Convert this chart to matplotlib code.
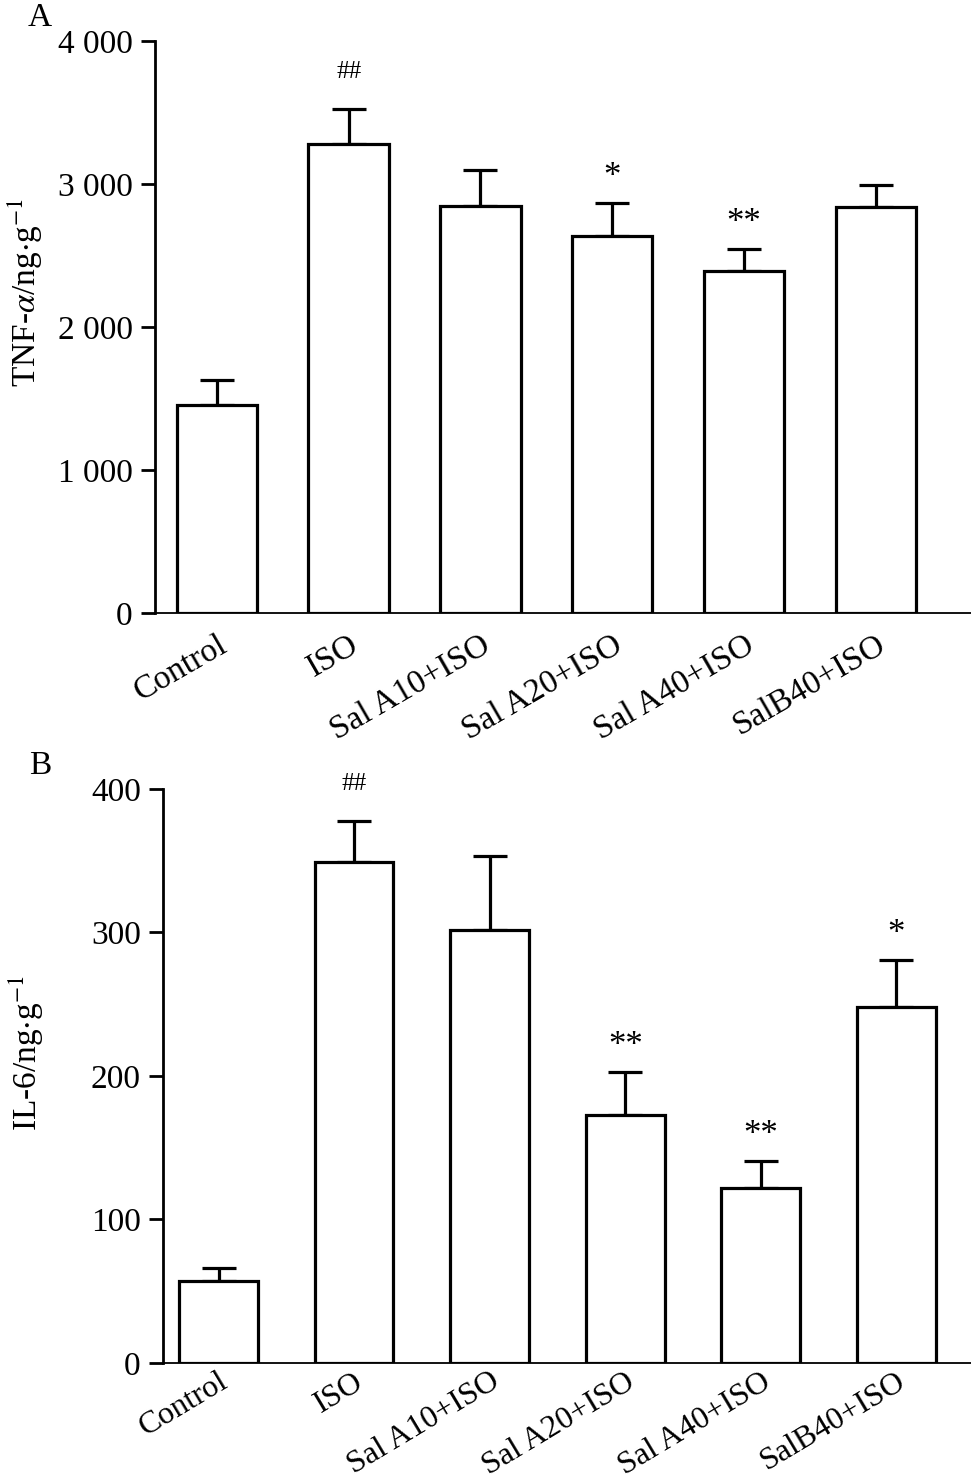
import matplotlib
matplotlib.use('Agg')
import matplotlib.pyplot as plt
import numpy as np

plt.rcParams['font.family'] = ['Liberation Serif', 'DejaVu Serif']
plt.rcParams['mathtext.fontset'] = 'stix'

groups = ['Control', 'ISO', 'Sal A10+ISO', 'Sal A20+ISO', 'Sal A40+ISO', 'SalB40+ISO']

# 图A：TNF-α
tnf_mean = [1455, 3280, 2846, 2636, 2392, 2839]
tnf_err = [174, 244, 252, 231, 153, 154]
tnf_marks = ['', '##', '', '*', '**', '']

# 图B：IL-6
il6_mean = [57, 349, 302, 173, 122, 248]
il6_err = [9, 29, 51, 30, 19, 33]
il6_marks = ['', '##', '', '**', '**', '*']

fig = plt.figure(figsize=(9.71, 14.78), dpi=100)


def panel(rect, mean, err, marks, yticks, yticklabels, ylabel, width, xlim,
          letter, label_xy, xpad, rot, xfs):
    ax = fig.add_axes(rect)
    x = np.arange(len(groups))
    ax.bar(x, mean, width=width, color='white', edgecolor='black', linewidth=2.3, zorder=2)
    # 只画上半误差棒
    ax.errorbar(x, mean, yerr=[np.zeros(len(err)), err], fmt='none', ecolor='black',
                elinewidth=2.3, capsize=12, capthick=2.3, zorder=1)
    top = yticks[-1]
    for xi, m, e, s in zip(x, mean, err, marks):
        if not s:
            continue
        if s == '##':
            ax.text(xi, m + e + top * 0.045, s, ha='center', va='bottom', fontsize=18)
        else:
            ax.text(xi, m + e + top * 0.015, s, ha='center', va='bottom', fontsize=25)
    ax.set_ylim(0, top)
    ax.set_xlim(*xlim)
    ax.set_yticks(yticks)
    ax.set_yticklabels(yticklabels, fontsize=24)
    ax.set_xticks(x)
    ax.set_xticklabels(groups, fontsize=xfs, rotation=rot, ha='right', rotation_mode='anchor')
    ax.tick_params(axis='x', length=0, pad=xpad)
    ax.tick_params(axis='y', length=10, width=2, direction='out', pad=6)
    ax.spines['top'].set_visible(False)
    ax.spines['right'].set_visible(False)
    ax.spines['left'].set_linewidth(2)
    ax.spines['bottom'].set_linewidth(1.3)
    ax.set_ylabel(ylabel, fontsize=24)
    ax.yaxis.set_label_coords(*label_xy)
    fig.text(0.041, rect[1] + rect[3] + 0.016, letter, fontsize=24, va='center', ha='center')
    return ax


panel([0.1596, 0.5852, 0.84, 0.3871], tnf_mean, tnf_err, tnf_marks,
      [0, 1000, 2000, 3000, 4000], ['0', '1 000', '2 000', '3 000', '4 000'],
      r'TNF-$\alpha$/ng$\cdot$g$^{-1}$', 0.61, (-0.47, 5.72), 'A', (-0.135, 0.56), 12, 30, 24)

panel([0.1679, 0.0778, 0.832, 0.3884], il6_mean, il6_err, il6_marks,
      [0, 100, 200, 300, 400], ['0', '100', '200', '300', '400'],
      r'IL-6/ng$\cdot$g$^{-1}$', 0.58, (-0.41, 5.55), 'B', (-0.145, 0.54), 3, 31, 23)

fig.savefig('out.png', dpi=100)
